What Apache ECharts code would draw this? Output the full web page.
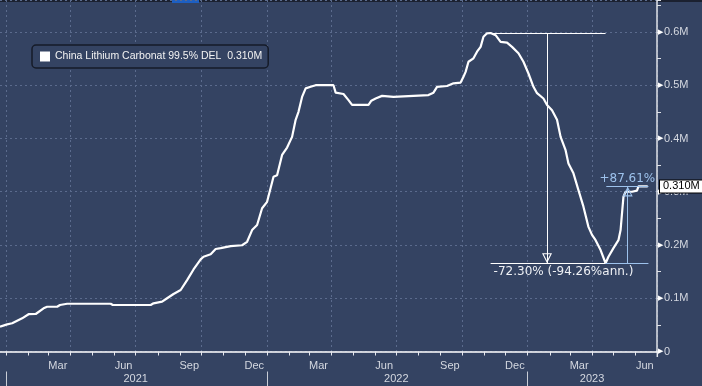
<!DOCTYPE html>
<html><head><meta charset="utf-8">
<script src="https://cdn.jsdelivr.net/npm/echarts@6/dist/echarts.min.js"></script>
<style>html,body{margin:0;padding:0;background:#344362;}#c{width:702px;height:386px;}</style>
</head><body><div id="c"></div>
<script>
const seriesName = 'China Lithium Carbonat 99.5% DEL';
const lastValueLabel = '0.310M';
const axisStart = '2020-12-23';
const axisEnd = '2023-07-01';
const monthNames = {'03':'Mar','06':'Jun','09':'Sep','12':'Dec'};
const yearLabelDays = ['2021-07-01','2022-07-01','2023-04-01'];

const dates = ['2020-12-23','2021-01-02','2021-01-09','2021-01-16','2021-01-23','2021-02-01','2021-02-11','2021-02-22','2021-02-27','2021-03-13','2021-03-17','2021-03-27','2021-05-27','2021-05-30','2021-07-22','2021-07-26','2021-08-07','2021-08-14','2021-08-23','2021-09-02','2021-09-11','2021-09-20','2021-09-30','2021-10-04','2021-10-14','2021-10-21','2021-10-28','2021-11-11','2021-11-27','2021-12-04','2021-12-11','2021-12-18','2021-12-25','2022-01-01','2022-01-10','2022-01-15','2022-01-22','2022-01-29','2022-02-05','2022-02-10','2022-02-14','2022-02-19','2022-02-24','2022-03-03','2022-03-10','2022-04-04','2022-04-07','2022-04-18','2022-04-25','2022-04-30','2022-05-23','2022-05-27','2022-06-02','2022-06-11','2022-06-27','2022-07-25','2022-08-15','2022-08-22','2022-08-27','2022-09-10','2022-09-19','2022-09-29','2022-10-03','2022-10-06','2022-10-10','2022-10-17','2022-10-22','2022-10-27','2022-10-31','2022-11-05','2022-11-10','2022-11-17','2022-11-24','2022-12-03','2022-12-10','2022-12-19','2022-12-26','2023-01-02','2023-01-09','2023-01-14','2023-01-23','2023-01-28','2023-02-04','2023-02-11','2023-02-16','2023-02-23','2023-02-27','2023-03-06','2023-03-13','2023-03-20','2023-03-27','2023-04-01','2023-04-06','2023-04-13','2023-04-20','2023-04-24','2023-05-01','2023-05-08','2023-05-11','2023-05-13','2023-05-15','2023-05-18','2023-05-27','2023-06-03','2023-06-05','2023-06-18'];
const values = [46600,51000,53000,57800,62300,70000,70400,81000,84000,84000,87300,89700,89700,87300,87300,90500,93500,100000,108000,115500,134000,154000,173000,178000,182500,192500,194000,198000,199500,206000,228000,237500,269000,281000,328000,331000,369000,383000,403000,435000,450000,478000,494000,497000,500000,500000,486000,483500,472000,463000,463000,471000,475000,480000,478000,480000,481500,486000,497000,498500,503500,505000,516000,525000,544000,550500,563000,572000,591000,597500,598000,594000,581500,580000,572000,560000,544000,522000,497000,485000,475000,463000,453000,435000,403000,378000,353000,334500,303000,272000,234000,219000,209000,190500,165700,178000,194000,209000,228000,259500,290500,300000,300000,302000,310000,310000];

// annotation (drawn measurement tools)
const peakDate = '2022-11-10', peakValue = 598000;
const troughDate = '2023-04-20', troughValue = 165700;
const dropLineDate = '2023-01-28';
const reboundStartDate = '2023-04-21', reboundLineDate = '2023-05-21', annotEndDate = '2023-06-19';
const reboundValue = 310000;
const dropLabel = '-72.30% (-94.26%ann.)';
const reboundLabel = '+87.61%';

function buildDays(s, e) {
  const out = [];
  let t = Date.parse(s + 'T00:00:00Z');
  const end = Date.parse(e + 'T00:00:00Z');
  while (t <= end) { out.push(new Date(t).toISOString().slice(0, 10)); t += 86400000; }
  return out;
}
const days = buildDays(axisStart, axisEnd);

const FONT = "'Liberation Sans', Arial, sans-serif";
const WHITE = '#ffffff';
const BLUE = '#9dc2ec';
const GRID = '#5b6b8d';
const TXT = '#d4d8e0';
const hollowTri = 'path://M5,0L10,10L0,10Z M5,2.6L1.7,8.9L8.3,8.9Z';

const chart = echarts.init(document.getElementById('c'), null, {renderer: 'canvas'});
chart.setOption({
  animation: false,
  backgroundColor: '#344362',
  textStyle: {fontFamily: FONT},
  grid: {left: 0, right: 45, top: 0, bottom: 34.5, containLabel: false, outerBoundsMode: 'none'},
  legend: {
    show: true, left: 32, top: 45, icon: 'rect', itemWidth: 10, itemHeight: 10, itemGap: 5,
    padding: [6, 6, 6, 8], backgroundColor: '#344362', borderColor: '#151b28', borderWidth: 1.5, borderRadius: 4,
    itemStyle: {color: WHITE},
    textStyle: {color: '#f2f2f2', fontSize: 10.5, fontFamily: FONT},
    formatter: n => n + '  ' + lastValueLabel,
    data: [seriesName]
  },
  xAxis: [{
    type: 'category', data: days, boundaryGap: false, offset: 5,
    axisLine: {show: true, lineStyle: {color: WHITE, width: 1.5}},
    axisTick: {show: true, interval: (i, v) => v.slice(8) === '01', length: 4, lineStyle: {color: '#e6e8ee'}},
    axisLabel: {
      interval: (i, v) => v.slice(8) === '14' && monthNames[v.slice(5, 7)] !== undefined,
      formatter: v => monthNames[v.slice(5, 7)] || '',
      color: TXT, fontSize: 11, margin: 4, fontFamily: FONT
    },
    splitLine: {show: true, interval: (i, v) => v.slice(8) === '01' && ['01','04','07','10'].indexOf(v.slice(5, 7)) >= 0,
      lineStyle: {color: GRID, type: [2, 3], width: 1}}
  }, {
    type: 'category', data: days, boundaryGap: false, position: 'bottom', offset: 20,
    axisLine: {show: false},
    axisTick: {show: true, interval: (i, v) => v.slice(5) === '01-01', length: 16, lineStyle: {color: '#c9cdd6'}},
    axisLabel: {interval: (i, v) => yearLabelDays.indexOf(v) >= 0, formatter: v => v.slice(0, 4),
      color: TXT, fontSize: 11, margin: 2, fontFamily: FONT},
    splitLine: {show: false}
  }],
  yAxis: {
    type: 'value', position: 'right', min: 0, max: 660000, interval: 100000,
    axisLine: {show: true, lineStyle: {color: '#dfe2e8', width: 1.5}},
    axisTick: {show: true, length: 4, lineStyle: {color: '#dfe2e8'}},
    minorTick: {show: true, splitNumber: 2, length: 4, lineStyle: {color: '#dfe2e8'}},
    axisLabel: {
      margin: 1, showMaxLabel: false, color: TXT, fontSize: 11, fontFamily: FONT,
      formatter: v => (v % 100000 === 0) ? '{a|▶}' + (v === 0 ? '0' : (v / 1e6) + 'M') : '',
      rich: {a: {fontSize: 7, color: WHITE, padding: [0, 1, 0, 0]}}
    },
    splitLine: {show: true, lineStyle: {color: GRID, type: [2, 3], width: 1}}
  },
  graphic: [
    {type: 'rect', shape: {x: 0, y: 0, width: 702, height: 2}, style: {fill: '#1b2130'}, silent: true},
    {type: 'rect', shape: {x: 172, y: 0, width: 27, height: 3}, style: {fill: '#1d5fc2'}, silent: true},
    {type: 'line', shape: {x1: 657.3, y1: 350, x2: 657.3, y2: 357}, style: {stroke: '#dfe2e8', lineWidth: 1.5}, silent: true}
  ],
  series: [{
    type: 'line', name: seriesName,
    data: dates.map((d, i) => [d, values[i]]),
    showSymbol: false, symbol: 'none',
    lineStyle: {color: WHITE, width: 2.2},
    itemStyle: {color: WHITE},
    z: 3,
    markLine: {
      silent: true, animation: false, symbol: 'none',
      lineStyle: {color: WHITE, width: 1, type: 'solid'},
      label: {show: false},
      emphasis: {disabled: true},
      data: [
        [{coord: [peakDate, peakValue], symbol: 'none'}, {coord: [troughDate, peakValue], symbol: 'none'}],
        [{coord: [dropLineDate, peakValue], symbol: 'none'},
         {coord: [dropLineDate, troughValue], symbol: hollowTri, symbolSize: [10, 10], symbolOffset: [0, 5]}],
        [{coord: [peakDate, troughValue], symbol: 'none',
          label: {show: true, position: 'insideStartBottom', distance: 3, formatter: dropLabel,
            color: '#eef0f4', fontSize: 12, fontFamily: "'DejaVu Sans', sans-serif"}},
         {coord: [troughDate, troughValue], symbol: 'none'}],
        [{coord: [troughDate, troughValue], symbol: 'none', lineStyle: {color: BLUE, width: 1}},
         {coord: [annotEndDate, troughValue], symbol: 'none'}],
        [{coord: [reboundLineDate, troughValue], symbol: 'none', lineStyle: {color: BLUE, width: 1}},
         {coord: [reboundLineDate, reboundValue], symbol: hollowTri, symbolSize: [10, 10], symbolOffset: [0, 5]}],
        [{coord: [reboundStartDate, reboundValue], symbol: 'none', lineStyle: {color: BLUE, width: 1},
          label: {show: true, position: 'insideMiddleTop', distance: 2, formatter: reboundLabel,
            color: BLUE, fontSize: 12, fontFamily: "'DejaVu Sans', sans-serif"}},
         {coord: [annotEndDate, reboundValue], symbol: 'none'}]
      ]
    }
  }, {
    type: 'line', name: 'lastTag', data: [[axisEnd, reboundValue]], silent: true, clip: false,
    showSymbol: false, symbol: 'none', lineStyle: {width: 0, color: 'rgba(0,0,0,0)'},
    markLine: {
      silent: true, animation: false, symbol: 'none',
      lineStyle: {color: 'rgba(0,0,0,0)', width: 1, opacity: 1},
      emphasis: {disabled: true},
      label: {show: true, position: 'end', distance: 3, formatter: lastValueLabel, opacity: 1,
        color: '#000', backgroundColor: '#ffffff', borderColor: '#000', borderWidth: 1,
        padding: [1, 3, 0, 3], fontSize: 11, fontFamily: FONT},
      data: [{yAxis: reboundValue}]
    },
    z: 10
  }]
});
</script>
</body></html>
